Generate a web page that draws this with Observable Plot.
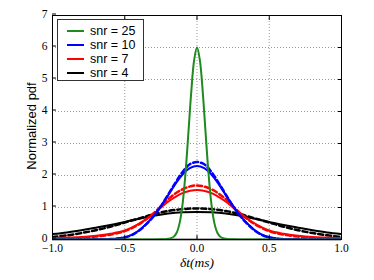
<!DOCTYPE html>
<html><head><meta charset="utf-8">
<script src="https://cdn.jsdelivr.net/npm/d3@7"></script>
<script src="https://cdn.jsdelivr.net/npm/@observablehq/plot@0.6"></script>
<style>
body{margin:0;background:white;}
#wrap{position:relative;width:374px;height:280px;}
#legend{position:absolute;left:57px;top:19px;width:87px;height:62px;border:1px solid #333;background:white;box-sizing:border-box;font-family:"Liberation Sans",Arial,sans-serif;font-size:12.5px;}
.row{position:absolute;left:9px;height:14px;display:flex;align-items:center;}
.row span.sw{display:inline-block;width:17px;height:2px;margin-right:6px;}
</style>
</head><body>
<div id="wrap"><div id="legend"></div></div>
<script>
const xTicks = [-1, -0.5, 0, 0.5, 1];
const yTicks = [0, 1, 2, 3, 4, 5, 6, 7];
const labels = ["snr = 25", "snr = 10", "snr = 7", "snr = 4"];
const colors = ["#1f8a1f", "#0000ff", "#ff0000", "#000000"];

const xGreen = [-1, -0.3, -0.25, -0.22, -0.2, -0.18, -0.16, -0.14, -0.12, -0.1, -0.08, -0.06, -0.04, -0.02, 0,
  0.02, 0.04, 0.06, 0.08, 0.1, 0.12, 0.14, 0.16, 0.18, 0.2, 0.22, 0.25, 0.3, 1];
const green = [0, 0, 0.005, 0.01, 0.02, 0.04, 0.09, 0.22, 0.52, 1.10, 2.05, 3.30, 4.60, 5.60, 6.00,
  5.60, 4.60, 3.30, 2.05, 1.10, 0.52, 0.22, 0.09, 0.04, 0.02, 0.01, 0.005, 0, 0];

const xBlue = [-1, -0.8, -0.7, -0.6, -0.55, -0.5, -0.45, -0.4, -0.35, -0.3, -0.25, -0.2, -0.15, -0.1, -0.05, 0,
  0.05, 0.1, 0.15, 0.2, 0.25, 0.3, 0.35, 0.4, 0.45, 0.5, 0.55, 0.6, 0.7, 0.8, 1];
const blueSolid = [0, 0.002, 0.005, 0.015, 0.035, 0.07, 0.15, 0.29, 0.49, 0.74, 1.04, 1.38, 1.73, 2.03, 2.23, 2.30,
  2.23, 2.03, 1.73, 1.38, 1.04, 0.74, 0.49, 0.29, 0.15, 0.07, 0.035, 0.015, 0.005, 0.002, 0];
const blueDashed = [0, 0.002, 0.005, 0.012, 0.03, 0.065, 0.14, 0.28, 0.48, 0.73, 1.04, 1.40, 1.77, 2.11, 2.35, 2.42,
  2.35, 2.11, 1.77, 1.40, 1.04, 0.73, 0.48, 0.28, 0.14, 0.065, 0.03, 0.012, 0.005, 0.002, 0];

const xBroad = [-1, -0.9, -0.8, -0.7, -0.6, -0.5, -0.4, -0.3, -0.2, -0.1, 0, 0.1, 0.2, 0.3, 0.4, 0.5, 0.6, 0.7, 0.8, 0.9, 1];
const redSolid = [0.04, 0.06, 0.08, 0.12, 0.18, 0.28, 0.50, 0.80, 1.18, 1.45, 1.55, 1.45, 1.18, 0.80, 0.50, 0.28, 0.18, 0.12, 0.08, 0.06, 0.04];
const redDashed = [0.02, 0.03, 0.05, 0.09, 0.15, 0.26, 0.48, 0.82, 1.26, 1.57, 1.69, 1.57, 1.26, 0.82, 0.48, 0.26, 0.15, 0.09, 0.05, 0.03, 0.02];
const blackSolid = [0.17, 0.22, 0.29, 0.37, 0.45, 0.55, 0.65, 0.74, 0.81, 0.85, 0.86, 0.85, 0.81, 0.74, 0.65, 0.55, 0.45, 0.37, 0.29, 0.22, 0.17];
const blackDashed = [0.08, 0.13, 0.20, 0.29, 0.40, 0.53, 0.66, 0.79, 0.89, 0.95, 0.97, 0.95, 0.89, 0.79, 0.66, 0.53, 0.40, 0.29, 0.20, 0.13, 0.08];

const pts = (xs, ys) => xs.map((x, i) => ({x, y: ys[i]}));
const fmt = d => d.toFixed(1).replace("-", "\u2212");
const solid = (xs, ys, c) => Plot.line(pts(xs, ys), {x: "x", y: "y", stroke: c, strokeWidth: 2, curve: "catmull-rom", clip: true});
const dashed = (xs, ys, c) => Plot.line(pts(xs, ys), {x: "x", y: "y", stroke: c, strokeWidth: 2.5, strokeDasharray: "5,3", curve: "catmull-rom", clip: true});

const chart = Plot.plot({
  width: 374, height: 280,
  marginLeft: 52, marginRight: 33, marginTop: 15, marginBottom: 41,
  x: {domain: [-1, 1]},
  y: {domain: [0, 7]},
  style: {fontFamily: "'Liberation Serif', serif", fontSize: "11.5px", color: "black", background: "white"},
  marks: [
    Plot.gridX(xTicks, {stroke: "#999", strokeOpacity: 1, strokeDasharray: "1,2"}),
    Plot.gridY(yTicks, {stroke: "#999", strokeOpacity: 1, strokeDasharray: "1,2"}),
    Plot.ruleY([0], {stroke: "#999", strokeWidth: 2.5}),
    solid(xBroad, blackSolid, colors[3]),
    dashed(xBroad, blackDashed, colors[3]),
    solid(xBroad, redSolid, colors[2]),
    dashed(xBroad, redDashed, colors[2]),
    solid(xBlue, blueSolid, colors[1]),
    dashed(xBlue, blueDashed, colors[1]),
    solid(xGreen, green, colors[0]),
    Plot.frame({stroke: "black", strokeWidth: 1}),
    Plot.axisX(xTicks, {anchor: "bottom", tickSize: -4, tickPadding: 8.5, tickFormat: fmt, label: null}),
    Plot.axisX(xTicks, {anchor: "top", tickSize: -4, tickFormat: () => "", label: null}),
    Plot.axisY(yTicks, {anchor: "left", tickSize: -4, tickPadding: 9, dy: -1.5, tickFormat: d => String(d), label: null}),
    Plot.axisY(yTicks, {anchor: "right", tickSize: -4, tickFormat: () => "", label: null})
  ]
});
document.getElementById("wrap").prepend(chart);

// axis titles
const svg = d3.select(chart);
svg.append("text").attr("x", 197).attr("y", 267).attr("text-anchor", "middle")
  .style("font-family", "'Liberation Serif', serif").style("font-style", "italic").style("font-size", "13.5px")
  .text("\u03b4t(ms)");
svg.append("text").attr("transform", "translate(36,126) rotate(-90)").attr("text-anchor", "middle")
  .style("font-family", "'Liberation Sans', Arial, sans-serif").style("font-size", "13px")
  .text("Normalized pdf");

const leg = document.getElementById("legend");
labels.forEach((l, i) => {
  const r = document.createElement("div");
  r.className = "row";
  r.style.top = (4 + i * 14) + "px";
  r.innerHTML = `<span class="sw" style="background:${colors[i]}"></span><span>${l}</span>`;
  leg.appendChild(r);
});
</script>
</body></html>
